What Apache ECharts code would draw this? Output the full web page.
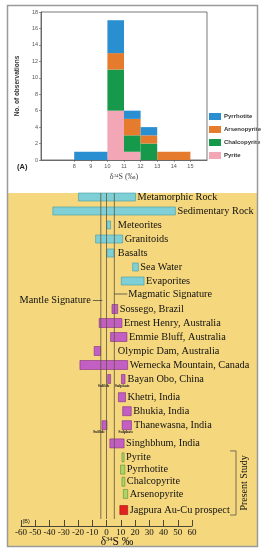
<!DOCTYPE html>
<html><head><meta charset="utf-8">
<script src="https://cdn.jsdelivr.net/npm/echarts@6/dist/echarts.min.js"></script>
<style>html,body{margin:0;padding:0;background:#fff;}#c{width:262px;height:550px;}</style>
</head><body><div id="c"></div>
<script>
// ---------- Panel A: histogram of δ34S (bins) ----------
const binStart = [8, 10, 11, 12, 13];
const binEnd = [10, 11, 12, 13, 15];
const pyrite = [0, 6, 1, 0, 0];
const chalcopyrite = [0, 5, 2, 2, 0];
const arsenopyrite = [0, 2, 2, 1, 1];
const pyrrhotite = [1, 4, 1, 1, 0];
const histTicksX = [8, 9, 10, 11, 12, 13, 14, 15];
const legendOrder = ['Pyrrhotite', 'Arsenopyrite', 'Chalcopyrite', 'Pyrite'];

// ---------- Panel B: δ34S ranges ----------
const rowsB = ['Metamorphic Rock', 'Sedimentary Rock', 'Meteorites', 'Granitoids', 'Basalts', 'Sea Water', 'Evaporites', 'Signatures', 'Sossego, Brazil', 'Ernest Henry, Australia', 'Emmie Bluff, Australia', 'Olympic Dam, Australia', 'Wernecka Mountain, Canada', 'Bayan Obo, China', 'Khetri, India', 'Bhukia, India', 'Thanewasna, India', 'Singhbhum, India', 'Pyrite', 'Pyrrhotite', 'Chalcopyrite', 'Arsenopyrite', 'Jagpura Au-Cu prospect'];
const lowB = [-20, -38, 0, -8, 0, 18, 10, null, 3.5, -5.5, 2.5, -9, -19, 0.5, 8, 11, -3.5, 2, 10.5, 9.5, 10.5, 11.5, 9];
const highB = [20, 48, 2.5, 11, 5, 22, 26, null, 7.5, 10.5, 14, -4.5, 14.5, 2.5, 13, 17, 0, 12, 12, 12.5, 12.5, 14.5, 14.5];
const sulphateLowB = [null, null, null, null, null, null, null, null, null, null, null, null, null, 10.5, null, null, 11, null, null, null, null, null, null];
const sulphateHighB = [null, null, null, null, null, null, null, null, null, null, null, null, null, 13, null, null, 17.5, null, null, null, null, null, null];
const groupB = ['rock', 'rock', 'rock', 'rock', 'rock', 'rock', 'rock', 'none', 'deposit', 'deposit', 'deposit', 'deposit', 'deposit', 'deposit', 'deposit', 'deposit', 'deposit', 'deposit', 'study', 'study', 'study', 'study', 'prospect'];
const signatureLines = [-4, 0, 5.5];
const signatureNames = ['Mantle Signature', 'Magmatic Signature'];
const ticksB = [-60, -50, -40, -30, -20, -10, 0, 10, 20, 30, 40, 50, 60];

const SERIF = '"Liberation Serif", "DejaVu Serif", serif';
const SANS = '"Liberation Sans", Arial, sans-serif';
const FS_B = 10.3;
const histColors = { Pyrite: '#f2a6b6', Chalcopyrite: '#16994a', Arsenopyrite: '#e57c2d', Pyrrhotite: '#2a8fd0' };
const groupStyle = {
  rock: { fill: '#7fd0d6', stroke: '#3f9aa3' },
  deposit: { fill: '#c35fc3', stroke: '#7d2f7d' },
  study: { fill: '#acd46a', stroke: '#5f8f2a' },
  prospect: { fill: '#e2231f', stroke: '#a01010' }
};

// row layout: extra room under rows carrying Sulfide/Sulphate sub-labels, tighter present-study rows
const rowPos = [];
rowsB.forEach((r, i) => {
  if (i === 0) { rowPos.push(0); return; }
  let step = 1;
  if (sulphateLowB[i - 1] !== null) step += 0.3;
  if (groupB[i] === 'study' && groupB[i - 1] === 'study') step = 0.87;
  if (groupB[i] === 'prospect') step = 1.15;
  rowPos.push(rowPos[i - 1] + step);
});
const ROW_PX = 14;                 // pixel height of one layout row
const GRID_B_TOP = 190, AXIS_B_Y = 526;
const posMin = -0.5;
const posMax = posMin + (AXIS_B_Y - GRID_B_TOP) / ROW_PX;

// stacked histogram series (custom rects)
const stackDefs = [['Pyrite', pyrite], ['Chalcopyrite', chalcopyrite], ['Arsenopyrite', arsenopyrite], ['Pyrrhotite', pyrrhotite]];
const base = binStart.map(() => 0);
const histSeries = stackDefs.map(([name, vals]) => {
  const data = [];
  vals.forEach((v, i) => { if (v > 0) data.push([binStart[i], binEnd[i], base[i], base[i] + v]); base[i] += v; });
  const color = histColors[name];
  return {
    type: 'custom', name, xAxisIndex: 0, yAxisIndex: 0, itemStyle: { color },
    encode: { x: [0, 1], y: [2, 3] }, data,
    renderItem: (params, api) => {
      const p0 = api.coord([api.value(0), api.value(3)]);
      const p1 = api.coord([api.value(1), api.value(2)]);
      return { type: 'rect', shape: { x: p0[0], y: p0[1], width: p1[0] - p0[0], height: p1[1] - p0[1] }, style: { fill: color } };
    }
  };
});

// panel B bars + labels
const barData = [];
rowsB.forEach((r, i) => { if (lowB[i] !== null) barData.push([lowB[i], highB[i], rowPos[i], sulphateLowB[i], sulphateHighB[i], i]); });

const barSeries = {
  type: 'custom', xAxisIndex: 1, yAxisIndex: 1, encode: { x: [0, 1], y: 2 }, data: barData, z: 4,
  renderItem: (params, api) => {
    const lo = api.value(0), hi = api.value(1), yp = api.value(2);
    const sLo = api.value(3), sHi = api.value(4), idx = api.value(5);
    const st = groupStyle[groupB[idx]];
    const hgt = groupB[idx] === 'rock' ? 8 : 9;
    const a = api.coord([lo, yp]), b = api.coord([hi, yp]);
    const yc = a[1];
    const children = [{ type: 'rect', shape: { x: a[0] + 0.5, y: yc - hgt / 2, width: Math.max(b[0] - a[0], 2), height: hgt }, style: { fill: st.fill, stroke: st.stroke, lineWidth: 0.6 } }];
    let right = b[0];
    const hasS = sLo !== null && sLo !== undefined && !isNaN(sLo);
    if (hasS) {
      const c = api.coord([sLo, yp]), d = api.coord([sHi, yp]);
      children.push({ type: 'rect', shape: { x: c[0], y: yc - hgt / 2, width: d[0] - c[0], height: hgt }, style: { fill: st.fill, stroke: st.stroke, lineWidth: 0.6 } });
      right = d[0];
      children.push({ type: 'text', style: { text: 'Sulfide', x: (a[0] + b[0]) / 2 - 5, y: yc + 7, align: 'center', verticalAlign: 'middle', fontSize: 4, fontWeight: 'bold', fontFamily: SERIF, fill: '#222' } });
      children.push({ type: 'text', style: { text: 'Sulphate', x: (c[0] + d[0]) / 2 - 1, y: yc + 7, align: 'center', verticalAlign: 'middle', fontSize: 4, fontWeight: 'bold', fontFamily: SERIF, fill: '#222' } });
    }
    const minLabel = api.coord([signatureLines[2], yp])[0] + 1;
    children.push({ type: 'text', style: { text: rowsB[idx], x: Math.max(right, minLabel) + 2.5, y: yc, align: 'left', verticalAlign: 'middle', fontSize: FS_B, fontFamily: SERIF, fill: '#111' } });
    return { type: 'group', children };
  }
};

const lineSeries = {
  type: 'custom', xAxisIndex: 1, yAxisIndex: 1, encode: { x: 0, y: 1 }, z: 5,
  data: signatureLines.map(v => [v, 0]),
  renderItem: (params, api) => {
    const x = api.coord([api.value(0), 0])[0];
    const cs = params.coordSys;
    return { type: 'line', shape: { x1: x, y1: cs.y + 3, x2: x, y2: cs.y + cs.height - 7 }, style: { stroke: '#5e5440', lineWidth: 0.8 } };
  }
};

const sigRow = rowPos[rowsB.indexOf('Signatures')];
const sigSeries = {
  type: 'custom', xAxisIndex: 1, yAxisIndex: 1, encode: { x: 0, y: 1 }, z: 6,
  data: [[signatureLines[0], sigRow]],
  renderItem: (params, api) => {
    const pm = api.coord([signatureLines[0], sigRow]);
    const pg = api.coord([signatureLines[2], sigRow]);
    const ym = pm[1] + 5.5, yg = pm[1] - 1;
    return { type: 'group', children: [
      { type: 'line', shape: { x1: pm[0] - 8, y1: ym, x2: pm[0] + 1.5, y2: ym }, style: { stroke: '#333', lineWidth: 0.7 } },
      { type: 'text', style: { text: signatureNames[0], x: pm[0] - 10, y: ym, align: 'right', verticalAlign: 'middle', fontSize: FS_B, fontFamily: SERIF, fill: '#111' } },
      { type: 'line', shape: { x1: pg[0], y1: yg, x2: pg[0] + 13, y2: yg }, style: { stroke: '#333', lineWidth: 0.7 } },
      { type: 'text', style: { text: signatureNames[1], x: pg[0] + 14, y: yg, align: 'left', verticalAlign: 'middle', fontSize: FS_B, fontFamily: SERIF, fill: '#111' } }
    ] };
  }
};

const studyFirst = rowPos[rowsB.indexOf('Pyrite')], studyLast = rowPos[rowsB.indexOf('Jagpura Au-Cu prospect')];
const bracketSeries = {
  type: 'custom', xAxisIndex: 1, yAxisIndex: 1, encode: { x: 0, y: 1 }, z: 6,
  data: [[60, studyFirst]],
  renderItem: (params, api) => {
    const t = api.coord([60, studyFirst])[1] - 6.5;
    const b = api.coord([60, studyLast])[1] + 5;
    const bx = 236;
    return { type: 'group', children: [
      { type: 'polyline', shape: { points: [[bx - 6, t], [bx, t], [bx, b], [bx - 6, b]] }, style: { stroke: '#444', lineWidth: 0.7, fill: null } },
      { type: 'text', rotation: Math.PI / 2, x: 244.5, y: (t + b) / 2, style: { text: 'Present Study', x: 0, y: 0, align: 'center', verticalAlign: 'middle', fontSize: 10, fontFamily: SERIF, fill: '#111' } }
    ] };
  }
};

const chart = echarts.init(document.getElementById('c'), null, { renderer: 'canvas' });
chart.setOption({
  animation: false,
  backgroundColor: '#fff',
  graphic: [
    { type: 'rect', z: -10, shape: { x: 8, y: 193, width: 249, height: 353 }, style: { fill: '#f5d77e' } },
    { type: 'rect', z: 100, shape: { x: 7.5, y: 5.5, width: 250, height: 541 }, style: { fill: null, stroke: '#9a9a9a', lineWidth: 1.5 } },
    { type: 'text', z: 100, x: 17, y: 167, style: { text: '(A)', fontSize: 7.5, fontWeight: 'bold', fontFamily: SANS, fill: '#222', verticalAlign: 'middle' } },
    { type: 'text', z: 100, x: 22.5, y: 521, style: { text: '(B)', fontSize: 5.5, fontFamily: SANS, fill: '#222', verticalAlign: 'middle' } },
    { type: 'text', z: 100, x: 117, y: 541.5, style: { text: '{d|δ}{s|34}{d|S ‰}', align: 'center', verticalAlign: 'middle', rich: { d: { fontSize: 11.5, fontFamily: SERIF, fill: '#111' }, s: { fontSize: 6.5, fontFamily: SERIF, fill: '#111', verticalAlign: 'top', padding: [0, 0, 4, 0] } } } }
  ],
  legend: {
    data: legendOrder, orient: 'vertical', left: 209, top: 113, padding: 0,
    itemWidth: 12, itemHeight: 7, itemGap: 6, icon: 'rect',
    textStyle: { fontSize: 6, fontWeight: 'bold', fontFamily: SANS, color: '#333', padding: [0, 0, 0, -2] }
  },
  grid: [
    { left: 41, top: 12, width: 166, height: 148, show: true, borderColor: '#555', borderWidth: 0.8, backgroundColor: '#fff' },
    { left: 21, top: GRID_B_TOP, width: 171, height: AXIS_B_Y - GRID_B_TOP }
  ],
  xAxis: [
    {
      gridIndex: 0, type: 'value', min: 6, max: 16, interval: 1,
      name: '{d|δ}{s|34}{d|S (‰)}', nameLocation: 'middle', nameGap: 13,
      nameTextStyle: { rich: { d: { fontSize: 8, fontFamily: SERIF, color: '#444' }, s: { fontSize: 5, fontFamily: SERIF, color: '#444', verticalAlign: 'top', padding: [0, 0, 3, 0] } } },
      axisLine: { onZero: false, lineStyle: { color: '#555', width: 0.8 } },
      axisTick: { length: 2, customValues: histTicksX, lineStyle: { color: '#555', width: 0.6 } },
      axisLabel: { customValues: histTicksX, fontSize: 5.5, color: '#555', fontFamily: SANS, margin: 3 },
      splitLine: { show: false }
    },
    {
      gridIndex: 1, type: 'value', position: 'bottom', min: -60, max: 60, interval: 10,
      axisLine: { onZero: false, lineStyle: { color: '#222', width: 0.8 } },
      axisTick: { inside: true, length: 6, lineStyle: { color: '#222', width: 0.8 } },
      axisLabel: { fontSize: 9, color: '#111', fontFamily: SERIF, margin: 2, formatter: v => ticksB.includes(v) ? String(v) : '' },
      splitLine: { show: false }
    }
  ],
  yAxis: [
    {
      gridIndex: 0, type: 'value', min: 0, max: 18, interval: 2,
      name: 'No. of observations', nameLocation: 'middle', nameGap: 15, nameRotate: 90,
      nameTextStyle: { fontSize: 6.5, fontFamily: SANS, color: '#333', fontWeight: 'bold' },
      axisLine: { show: true, onZero: false, lineStyle: { color: '#555', width: 0.8 } },
      axisTick: { show: true, length: 2, lineStyle: { color: '#555', width: 0.6 } },
      axisLabel: { fontSize: 5.5, color: '#555', fontFamily: SANS, margin: 3 },
      splitLine: { show: false }
    },
    { gridIndex: 1, type: 'value', min: posMin, max: posMax, inverse: true, show: false, axisLine: { onZero: false }, splitLine: { show: false } }
  ],
  series: [...histSeries, lineSeries, barSeries, sigSeries, bracketSeries]
});
</script></body></html>
